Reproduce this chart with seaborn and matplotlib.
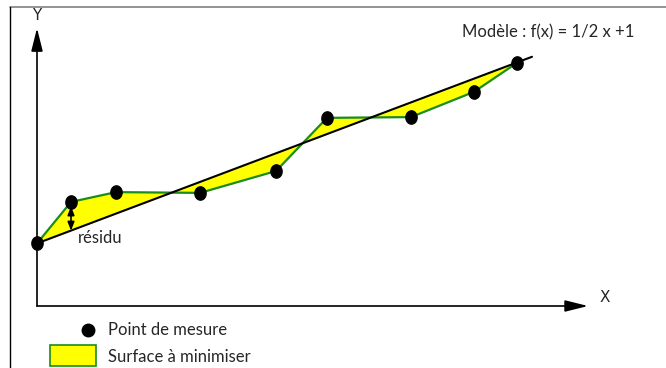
import numpy as np
import pandas as pd
import matplotlib.pyplot as plt
import matplotlib.patches as mpatches
from matplotlib.lines import Line2D
import seaborn as sns

# measured points (schematic units)
x_mes = [0.0, 0.68, 1.58, 3.26, 4.78, 5.80, 7.48, 8.74, 9.60]
y_mes = [1.0, 2.10, 2.36, 2.34, 2.92, 4.33, 4.35, 5.02, 5.79]

# model f(x) = 1/2 x + 1
a, b = 0.5, 1.0
x_model = [0.0, 9.9]

sns.set_style("white")
plt.rcParams['font.family'] = ['Lato', 'DejaVu Sans']

W, H = 666, 368
fig = plt.figure(figsize=(W / 100, H / 100), dpi=100)
ax = fig.add_axes([0, 0, 1, 1])

# pixel -> data mapping: x = (px-37)/50, y = (281.1-py)/37.7
ax.set_xlim(-37 / 50, (W - 37) / 50)
ax.set_ylim((281.1 - H) / 37.7, 281.1 / 37.7)
ax.axis("off")

df = pd.DataFrame({"x": x_mes, "y": y_mes})
xs = np.linspace(min(x_mes), max(x_mes), 2000)
ys_mes = np.interp(xs, x_mes, y_mes)
ys_mod = a * xs + b

ax.fill_between(xs, ys_mes, ys_mod, color="#ffff00", lw=0)
sns.lineplot(data=df, x="x", y="y", color="#1a8c1a", lw=1.6, ax=ax, sort=False)
mod = pd.DataFrame({"x": x_model, "y": [a * v + b for v in x_model]})
sns.lineplot(data=mod, x="x", y="y", color="black", lw=1.5, ax=ax)

# slightly oval dots
t = np.linspace(0, 2 * np.pi, 40)
oval = np.column_stack([0.85 * np.cos(t), np.sin(t)])
sns.scatterplot(data=df, x="x", y="y", color="black", s=95, marker=oval,
                edgecolor="black", ax=ax, zorder=5)

# axes arrows
y_axis_bottom = (281.1 - 306) / 37.7
ax.annotate("", xy=(0, 6.71), xytext=(0, y_axis_bottom),
            arrowprops=dict(arrowstyle="-|>,head_length=1.4,head_width=0.35",
                            color="black", lw=1.2, shrinkA=0, shrinkB=0))
ax.annotate("", xy=(11.02, y_axis_bottom), xytext=(0, y_axis_bottom),
            arrowprops=dict(arrowstyle="-|>,head_length=1.4,head_width=0.35",
                            color="black", lw=1.2, shrinkA=0, shrinkB=0))
ax.text(0, (281.1 - 15) / 37.7, "Y", ha="center", va="center", fontsize=11,
        family=["DejaVu Sans"])
ax.text((605 - 37) / 50, (281.1 - 297) / 37.7, "X", ha="center", va="center",
        fontsize=11, family=["DejaVu Sans"])

# residual arrow
xr = x_mes[1]
ax.annotate("", xy=(xr, a * xr + b), xytext=(xr, y_mes[1] - 0.12),
            arrowprops=dict(arrowstyle="<|-|>,head_length=0.5,head_width=0.2",
                            color="black", lw=1.2, shrinkA=0, shrinkB=0), zorder=6)
ax.text(0.82, 1.14, "résidu", ha="left", va="center", fontsize=12)

ax.text((462 - 37) / 50, (281.1 - 32) / 37.7, "Modèle : f(x) = 1/2 x +1",
        ha="left", va="center", fontsize=12)

# legend (drawn manually, figure pixel coords)
tr = fig.transFigure
fig.add_artist(Line2D([88 / W], [1 - 330 / H], marker="o", ms=9, color="black",
                      transform=tr))
fig.text(108 / W, 1 - 330 / H, "Point de mesure", ha="left", va="center", fontsize=12)
fig.add_artist(mpatches.Rectangle((50 / W, 1 - 366 / H), 46 / W, 21 / H,
                                  facecolor="#ffff00", edgecolor="#1a8c1a", lw=1.2,
                                  transform=tr))
fig.text(108 / W, 1 - 357 / H, "Surface à minimiser", ha="left", va="center", fontsize=12)

# frame lines
fig.add_artist(Line2D([10 / W, 1], [1 - 7 / H, 1 - 7 / H], color="#808080", lw=1.2,
                      transform=tr))
fig.add_artist(Line2D([10 / W, 10 / W], [0, 1 - 7 / H], color="black", lw=1.0,
                      transform=tr))

fig.savefig("out.png", dpi=100)
